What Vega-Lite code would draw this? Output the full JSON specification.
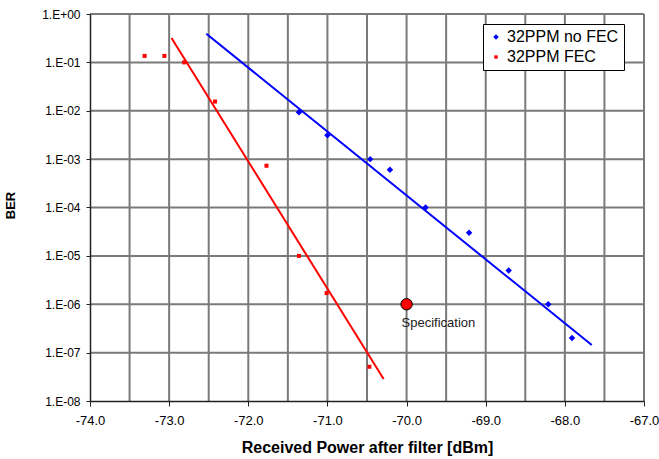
{
  "$schema": "https://vega.github.io/schema/vega-lite/v6.json",
  "width": 554,
  "height": 387,
  "autosize": "none",
  "padding": {"left": 90, "top": 14, "right": 15, "bottom": 58},
  "background": "white",
  "config": {
    "view": {"stroke": null},
    "font": "Liberation Sans",
    "axis": {
      "labelFont": "Liberation Sans", "titleFont": "Liberation Sans", "labelColor": "#000", "titleColor": "#000",
      "domainColor": "#222", "domainWidth": 1.5, "tickColor": "#222", "grid": false
    },
    "legend": {
      "orient": "none",
      "legendX": 393,
      "legendY": 10,
      "fillColor": "white",
      "strokeColor": "black",
      "strokeWidth": 1,
      "padding": 5,
      "labelFontSize": 16,
      "labelFont": "Liberation Sans",
      "labelColor": "#000",
      "labelOffset": 3,
      "rowPadding": 4,
      "symbolSize": 30,
      "symbolStrokeWidth": 0
    }
  },
  "datasets": {
    "xgrid": [
      {"v": -73.5}, {"v": -73}, {"v": -72.5}, {"v": -72}, {"v": -71.5}, {"v": -71}, {"v": -70.5},
      {"v": -70}, {"v": -69.5}, {"v": -69}, {"v": -68.5}, {"v": -68}, {"v": -67.5}, {"v": -67}
    ],
    "ygrid": [
      {"v": 1e-7}, {"v": 1e-6}, {"v": 1e-5}, {"v": 1e-4}, {"v": 1e-3}, {"v": 1e-2}, {"v": 1e-1}, {"v": 1}
    ],
    "points": [
      {"series": "32PPM no FEC", "power": -71.36, "ber": 0.0093},
      {"series": "32PPM no FEC", "power": -71.0, "ber": 0.0031},
      {"series": "32PPM no FEC", "power": -70.46, "ber": 0.001},
      {"series": "32PPM no FEC", "power": -70.21, "ber": 0.0006},
      {"series": "32PPM no FEC", "power": -69.76, "ber": 0.0001},
      {"series": "32PPM no FEC", "power": -69.21, "ber": 0.00003},
      {"series": "32PPM no FEC", "power": -68.71, "ber": 0.000005},
      {"series": "32PPM no FEC", "power": -68.21, "ber": 0.000001},
      {"series": "32PPM no FEC", "power": -67.91, "ber": 0.0000002},
      {"series": "32PPM FEC", "power": -73.31, "ber": 0.136},
      {"series": "32PPM FEC", "power": -73.06, "ber": 0.136},
      {"series": "32PPM FEC", "power": -72.81, "ber": 0.1},
      {"series": "32PPM FEC", "power": -72.42, "ber": 0.0155},
      {"series": "32PPM FEC", "power": -71.77, "ber": 0.00073},
      {"series": "32PPM FEC", "power": -71.36, "ber": 0.00001},
      {"series": "32PPM FEC", "power": -71.01, "ber": 0.0000017},
      {"series": "32PPM FEC", "power": -70.47, "ber": 0.000000051}
    ],
    "fits": [
      {"series": "32PPM no FEC", "power": -72.53, "ber": 0.39},
      {"series": "32PPM no FEC", "power": -67.66, "ber": 0.000000144},
      {"series": "32PPM FEC", "power": -72.97, "ber": 0.32},
      {"series": "32PPM FEC", "power": -70.29, "ber": 0.0000000285}
    ],
    "spec": [
      {"power": -70.0, "ber": 0.000001, "label": "Specification"}
    ]
  },
  "layer": [
    {
      "data": {"name": "xgrid"},
      "mark": {"type": "rule", "color": "#7a7a7a", "strokeWidth": 2},
      "encoding": {
        "x": {
          "field": "v", "type": "quantitative",
          "scale": {"domain": [-74, -67], "nice": false, "zero": false},
          "axis": {
            "title": "Received Power after filter [dBm]",
            "values": [-74, -73, -72, -71, -70, -69, -68, -67],
            "labelExpr": "(datum.value < 0 ? '-' : '') + format(abs(datum.value), '.1f')",
            "labelFontSize": 13,
            "labelPadding": 8,
            "labelFlush": false,
            "labelOverlap": false,
            "tickSize": 5,
            "titleFontSize": 16,
            "titleFontWeight": "bold",
            "titleBaseline": "middle",
            "titleX": 277,
            "titleY": 46,
            "zindex": 1
          }
        }
      }
    },
    {
      "data": {"name": "ygrid"},
      "mark": {"type": "rule", "color": "#7a7a7a", "strokeWidth": 2},
      "encoding": {
        "y": {
          "field": "v", "type": "quantitative",
          "scale": {"type": "log", "domain": [1e-8, 1], "nice": false},
          "axis": {
            "title": "BER",
            "values": [1e-8, 1e-7, 1e-6, 1e-5, 1e-4, 1e-3, 1e-2, 1e-1, 1],
            "labelExpr": "'1.E' + (round(log(datum.value)/LN10) >= 0 ? '+' : '-') + (abs(round(log(datum.value)/LN10)) < 10 ? '0' : '') + abs(round(log(datum.value)/LN10))",
            "labelFontSize": 12,
            "labelPadding": 6,
            "labelFlush": false,
            "labelOverlap": false,
            "tickSize": 4,
            "titleFontSize": 13,
            "titleFontWeight": "bold",
            "titleBaseline": "middle",
            "titleAngle": -90,
            "titleX": -80,
            "titleY": 191,
            "zindex": 1
          }
        }
      }
    },
    {
      "data": {"name": "fits"},
      "mark": {"type": "line", "strokeWidth": 2},
      "encoding": {
        "x": {"field": "power", "type": "quantitative"},
        "y": {"field": "ber", "type": "quantitative"},
        "color": {
          "field": "series", "type": "nominal",
          "scale": {"domain": ["32PPM no FEC", "32PPM FEC"], "range": ["#0000ff", "#ff0000"]}
        },
        "detail": {"field": "series"}
      }
    },
    {
      "data": {"name": "points"},
      "mark": {"type": "point", "filled": true, "opacity": 1, "size": 42},
      "encoding": {
        "x": {"field": "power", "type": "quantitative"},
        "y": {"field": "ber", "type": "quantitative"},
        "color": {
          "field": "series", "type": "nominal",
          "scale": {"domain": ["32PPM no FEC", "32PPM FEC"], "range": ["#0000ff", "#ff0000"]},
          "legend": {"title": null}
        },
        "shape": {
          "field": "series", "type": "nominal",
          "scale": {"domain": ["32PPM no FEC", "32PPM FEC"], "range": ["diamond", "M-0.62,-0.62L0.62,-0.62L0.62,0.62L-0.62,0.62Z"]},
          "legend": {"title": null}
        }
      }
    },
    {
      "data": {"name": "spec"},
      "mark": {"type": "point", "shape": "circle", "filled": true, "fill": "#ff0000", "stroke": "#000", "strokeWidth": 1, "size": 130, "opacity": 1},
      "encoding": {
        "x": {"field": "power", "type": "quantitative"},
        "y": {"field": "ber", "type": "quantitative"}
      }
    },
    {
      "data": {"name": "spec"},
      "mark": {"type": "text", "align": "left", "baseline": "middle", "dx": -5, "dy": 19, "fontSize": 13, "font": "Liberation Sans", "color": "#222"},
      "encoding": {
        "x": {"field": "power", "type": "quantitative"},
        "y": {"field": "ber", "type": "quantitative"},
        "text": {"field": "label"}
      }
    }
  ]
}
